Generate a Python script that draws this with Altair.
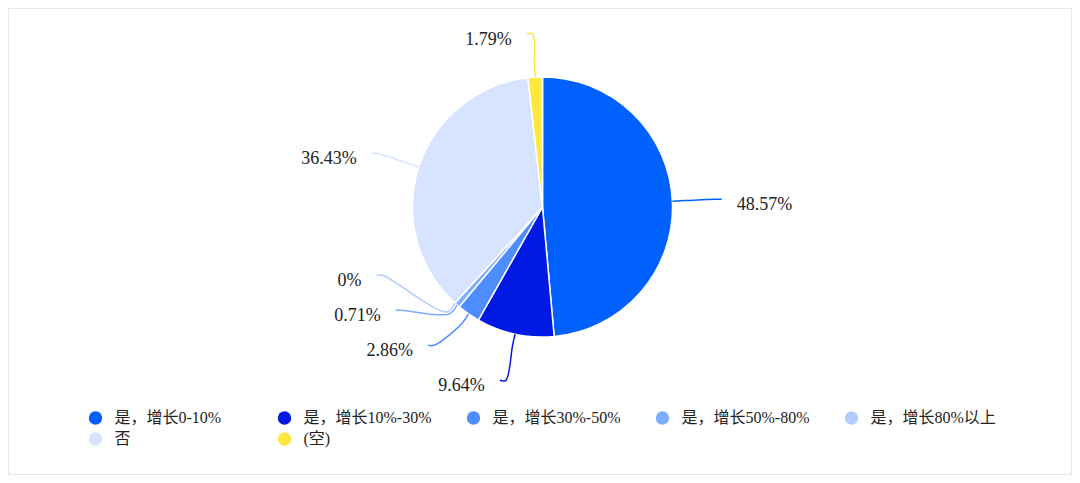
import math
import altair as alt
import pandas as pd

# ---- data ----
categories = ["是，增长0-10%", "是，增长10%-30%", "是，增长30%-50%",
              "是，增长50%-80%", "是，增长80%以上", "否", "(空)"]
values = [48.57, 9.64, 2.86, 0.71, 0.0, 36.43, 1.79]
colors = ["#0061FF", "#0019E3", "#4D8DFF", "#80AEFF", "#B3CDFF", "#D6E4FF", "#FFE83D"]

# ---- layout constants ----
W, H = 1064, 467
CX, CY, R = 534.5, 199.0, 130.0
LEN1, LEN2, GAP, SPACING, KNEE = 43.3, 6.0, 15.0, 35.0, 12.0
LABEL_FONT = "Liberation Serif, 'Noto Sans CJK SC', serif"

slices = pd.DataFrame({"category": categories, "value": values,
                       "order": list(range(len(categories)))})

# label layout (ECharts-like): natural position on circle, then push apart vertically
total = sum(values)
acc = 0.0
items = []
rA = R + LEN1
for i, (c, v) in enumerate(zip(categories, values)):
    a = (acc + v / 2) / total * 2 * math.pi
    acc += v
    s, co = math.sin(a), -math.cos(a)
    side = 1 if s >= 0 else -1
    items.append(dict(i=i, cat=c, val=v, s=s, co=co, side=side, ny=CY + rA * co))


def isotonic(z):
    out = []
    for v in z:
        out.append([v, 1])
        while len(out) > 1 and out[-2][0] / out[-2][1] > out[-1][0] / out[-1][1]:
            s_, n_ = out.pop()
            out[-1][0] += s_
            out[-1][1] += n_
    res = []
    for s_, n_ in out:
        res += [s_ / n_] * n_
    return res


for side in (1, -1):
    grp = sorted([it for it in items if it["side"] == side], key=lambda d: d["ny"])
    if not grp:
        continue
    z = [g["ny"] - k * SPACING for k, g in enumerate(grp)]
    ys = [zz + k * SPACING for k, zz in enumerate(isotonic(z))]
    ys[-1] = min(ys[-1], CY + rA)
    for k in range(len(ys) - 2, -1, -1):
        ys[k] = min(ys[k], ys[k + 1] - SPACING)
    ys[0] = max(ys[0], CY - rA)
    for k in range(1, len(ys)):
        ys[k] = max(ys[k], ys[k - 1] + SPACING)
    for g, y in zip(grp, ys):
        g["y"] = y
    # ellipse vertical radius per half (upper / lower)
    for upper in (True, False):
        half = [g for g in grp if (g["co"] < 0) == upper]
        if not half:
            continue
        rB = rA
        for g in half:
            dx0 = min(rA * abs(g["s"]), rA * 0.999)
            rB = max(rB, abs(g["y"] - CY) / math.sqrt(1 - (dx0 / rA) ** 2))
        for g in half:
            dy = g["y"] - CY
            dx = rA * math.sqrt(max(0.0, 1 - dy * dy / (rB * rB)))
            g["x1"] = CX + side * dx
            g["x2"] = g["x1"] + side * LEN2

line_rows, label_rows = [], []
for it in items:
    pts = [(CX + R * it["s"], CY + R * it["co"]),
           (CX + (R + KNEE) * it["s"], CY + (R + KNEE) * it["co"]),
           (it["x1"], it["y"]),
           (it["x2"], it["y"])]
    for k, (px, py) in enumerate(pts):
        line_rows.append({"category": it["cat"], "step": k, "px": px, "py": py})
    label_rows.append({"category": it["cat"], "label": f"{it['val']:g}%",
                       "tx": it["x2"] + it["side"] * GAP, "ty": it["y"] + 6,
                       "side": "right" if it["side"] > 0 else "left"})

lines = pd.DataFrame(line_rows)
labels = pd.DataFrame(label_rows)

color_scale = alt.Scale(domain=categories, range=colors)

arcs = alt.Chart(slices).mark_arc(outerRadius=R, stroke="white", strokeWidth=1.5).encode(
    theta=alt.Theta("value:Q", stack=True),
    color=alt.Color("category:N", scale=color_scale, sort=categories,
                    legend=alt.Legend(
                        title=None, orient="none", legendX=79.5, legendY=402,
                        direction="horizontal", columns=5, gridAlign="all",
                        symbolType="circle", symbolSize=180, symbolStrokeWidth=0,
                        labelFont=LABEL_FONT, labelFontSize=16, labelColor="#222222",
                        labelOffset=11, columnPadding=34, rowPadding=5, padding=0)),
    order=alt.Order("order:Q"),
    x=alt.value(CX),
    y=alt.value(CY),
)

leader = alt.Chart(lines).mark_line(interpolate="catmull-rom", strokeWidth=1.5).encode(
    x=alt.X("px:Q", scale=None, axis=None),
    y=alt.Y("py:Q", scale=None, axis=None),
    color=alt.Color("category:N", scale=color_scale, legend=None),
    detail="category:N",
    order=alt.Order("step:Q"),
)

text_right = alt.Chart(labels).transform_filter(alt.datum.side == "right").mark_text(
    align="left", baseline="middle", font=LABEL_FONT, fontSize=18, color="#222222"
).encode(x=alt.X("tx:Q", scale=None, axis=None), y=alt.Y("ty:Q", scale=None, axis=None),
         text="label:N")

text_left = alt.Chart(labels).transform_filter(alt.datum.side == "left").mark_text(
    align="right", baseline="middle", font=LABEL_FONT, fontSize=18, color="#222222"
).encode(x=alt.X("tx:Q", scale=None, axis=None), y=alt.Y("ty:Q", scale=None, axis=None),
         text="label:N")

chart = alt.layer(arcs, leader, text_right, text_left).properties(
    width=W, height=H, padding=0
).configure_view(stroke="#e6e6e6", strokeWidth=2)

chart.save("out.html", embed_options={"renderer": "svg", "actions": False})
